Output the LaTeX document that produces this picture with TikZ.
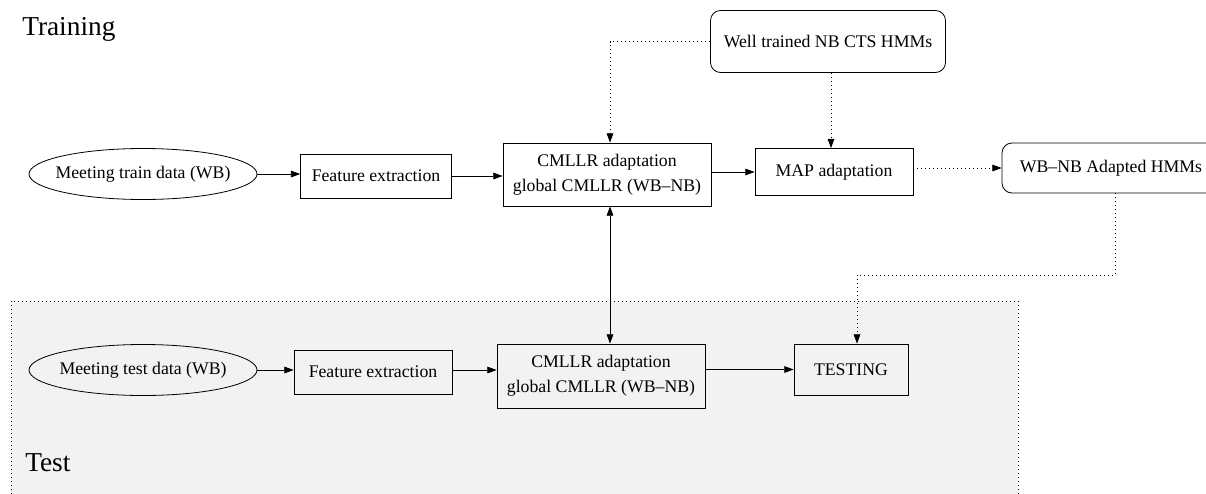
\documentclass[tikz,border=0pt]{standalone}
\usepackage{fontspec}
\setmainfont{Liberation Serif}
\usetikzlibrary{shapes.geometric,arrows.meta,calc}
\begin{document}
\begin{tikzpicture}[x=0.75pt,y=-0.75pt,
  every node/.style={font=\fontsize{13.3}{18.75}\selectfont, inner sep=0pt, align=center},
  sqbox/.style={draw, line width=0.6pt, rectangle},
  rndbox/.style={draw, line width=0.6pt, rectangle, rounded corners=7.5pt},
  ellnode/.style={draw, line width=0.6pt, ellipse, inner xsep=-6pt, minimum width=171pt, minimum height=38.25pt},
  arr/.style={line width=0.6pt, -{Triangle[length=7pt,width=5pt]}},
  darr/.style={line width=0.6pt, {Triangle[length=7pt,width=5pt]}-{Triangle[length=7pt,width=5pt]}},
  dotarr/.style={line width=0.6pt, dash pattern=on 0.75pt off 2.25pt, -{Triangle[length=7pt,width=5pt]}},
  biglabel/.style={font=\fontsize{20.5}{24}\selectfont, anchor=base west}
]
\clip (0,0) rectangle (1206,493);
\fill[white] (0,0) rectangle (1206,493);
% test region
\fill[gray!10] (11,301) rectangle (1018,510);
\draw[line width=0.6pt, dash pattern=on 0.75pt off 2.25pt] (11,510) -- (11,301) -- (1018,301) -- (1018,510);

\node[biglabel] (trainlbl) at (22,35) {Training};
\node[biglabel] (testlbl) at (25,471) {Test};

% training row
\node[ellnode] (e1) at (143,174) {Meeting train data (WB)};
\node[sqbox, minimum width=113pt, minimum height=33pt] (fe1) at (376,176) {Feature extraction};
\node[sqbox, minimum width=156pt, minimum height=47.25pt] (c1) at (607,174.5) {CMLLR adaptation\\global CMLLR (WB\textendash NB)};
\node[sqbox, minimum width=118.5pt, minimum height=35.25pt] (map) at (834,172) {MAP adaptation};
\node[rndbox, minimum width=176.25pt, minimum height=46.5pt] (well) at (828,41.5) {Well trained NB CTS HMMs};
\node[rndbox, minimum width=163.5pt, minimum height=37.5pt] (wb) at (1111,168) {WB\textendash NB Adapted HMMs};

% test row
\node[ellnode] (e2) at (143,370) {Meeting test data (WB)};
\node[sqbox, minimum width=118.5pt, minimum height=33pt] (fe2) at (373,372) {Feature extraction};
\node[sqbox, minimum width=156pt, minimum height=48pt] (c2) at (601,376) {CMLLR adaptation\\global CMLLR (WB\textendash NB)};
\node[sqbox, minimum width=85.5pt, minimum height=38.25pt] (tst) at (851,369.5) {TESTING};

% solid arrows
\draw[arr] (e1.east) -- (e1.east -| fe1.west);
\draw[arr] (fe1.east) -- (fe1.east -| c1.west);
\draw[arr] (c1.east |- map.west) -- (map.west);
\draw[arr] (e2.east) -- (e2.east -| fe2.west);
\draw[arr] (fe2.east |- e2.east) -- (e2.east -| c2.west);
\draw[arr] (c2.east |- tst.west) -- (tst.west);
\coordinate (dx) at ($(c1.south)+(3,0)$);
\draw[darr] (dx) -- (dx |- c2.north);

% dotted arrows
\coordinate (wtop) at ($(c1.north)+(3,0)$);
\draw[dotarr] (well.west) -| (wtop);
\coordinate (wdown) at ($(well.south)+(3,0)$);
\draw[dotarr] (wdown) -- (wdown |- map.north);
\draw[dotarr] (map.east |- wb.west) -- (wb.west);
\coordinate (wbs) at ($(wb.south)+(4,0)$);
\coordinate (kink) at (857,275);
\draw[dotarr] (wbs) |- (kink) -- (kink |- tst.north);
\end{tikzpicture}
\end{document}
